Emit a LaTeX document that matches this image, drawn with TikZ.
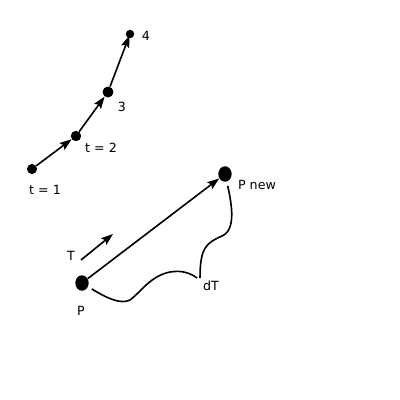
\documentclass[tikz,border=0pt]{standalone}
\usepackage{fontspec}
\setmainfont{DejaVu Sans}
\usetikzlibrary{arrows.meta,shapes.geometric}

\tikzset{
  dot/.style={circle, fill=black, inner sep=0pt, minimum size=#1},
  dot/.default=7pt,
  bigdot/.style={ellipse, fill=black, inner sep=0pt, minimum width=9.5pt, minimum height=11pt},
  lbl/.style={font=\fontsize{9}{11}\selectfont, inner sep=2pt},
  move/.style={-{Stealth[length=8.5pt,width=6pt,inset=1.5pt]}, line width=1.15pt},
  wiggle/.style={line width=1.15pt}
}

\begin{document}
\begin{tikzpicture}[x=0.025cm, y=-0.025cm]
    \useasboundingbox (0,0) rectangle (400,400);

    % ===== Track of the point over time =====
    \node[dot=7.2pt] (t1) at (32,169) {};
    \node[dot=7.4pt] (t2) at (76,136) {};
    \node[dot=7.8pt] (s3) at (108,92) {};
    \node[dot=6pt] (s4) at (130,34) {};

    \node[lbl] (t1lbl) at (45,190) {t = 1};
    \node[lbl] (t2lbl) at (101,148) {t = 2};
    \node[lbl] (s3lbl) at (122,107) {3};
    \node[lbl] (s4lbl) at (146,36) {4};

    \draw[move] (t1) -- (t2);
    \draw[move] (t2) -- (s3);
    \draw[move, shorten >=-2pt] (s3) -- (s4);

    % ===== Transform of P =====
    \node[bigdot] (P) at (82,283) {};
    \node[bigdot] (Pnew) at (225,174) {};

    \node[lbl] (Plbl) at (81,311) {P};
    \node[lbl] (Pnewlbl) at (257,185) {P new};
    \node[lbl] (Tlbl) at (71,256) {T};
    \node[lbl] (dT) at (211,286) {dT};

    \draw[move] (P) -- (Pnew);

    % Direction of T
    \coordinate (Tfrom) at (81,260);
    \coordinate (Tto) at (113,234);
    \draw[move] (Tfrom) -- (Tto);

    % Brace-like curve for dT
    \draw[wiggle, shorten <=3pt] (P) .. controls (105,297) and (120,305) .. (130,300)
        .. controls (140,293) and (150,276) .. (170,272)
        .. controls (182,270) and (190,273) .. ([xshift=-2pt]dT.north west);
    \draw[wiggle, shorten >=3pt] (dT.north west) .. controls (200,248) and (206,243) .. (222,236)
        .. controls (236,230) and (232,205) .. (Pnew);
\end{tikzpicture}
\end{document}
